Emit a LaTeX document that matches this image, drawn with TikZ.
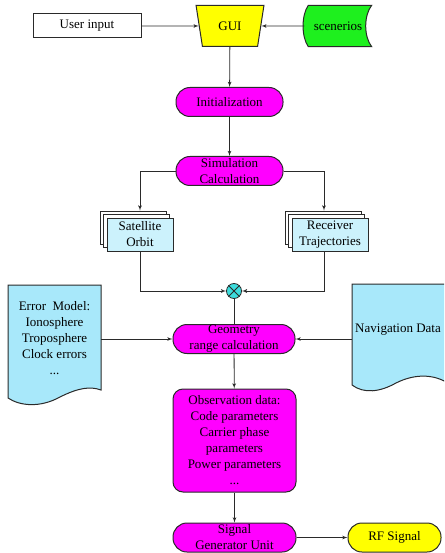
\documentclass[tikz,border=0pt]{standalone}
\usepackage{fontspec}
\setmainfont{Liberation Serif}
\usetikzlibrary{arrows,shapes.geometric,shadows}

\definecolor{linegray}{HTML}{2A2A2A}
\definecolor{procmagenta}{HTML}{FF00FF}
\definecolor{guiyellow}{HTML}{FFFF00}
\definecolor{scengreen}{HTML}{1EF01E}
\definecolor{docblue}{HTML}{A8E8FA}
\definecolor{stackblue}{HTML}{CCF2FC}
\definecolor{sumcyan}{HTML}{3CDCDC}

\begin{document}
\begin{tikzpicture}[
    x=1pt, y=-1pt,
    every node/.style={font=\fontsize{13}{16}\selectfont, align=center, inner sep=0pt},
    flow line/.style={->, >=latex', line width=.8pt, color=linegray},
    plain line/.style={line width=.8pt, color=linegray},
    process/.style={draw=linegray, line width=1pt, fill=procmagenta,
        rounded corners=14pt, minimum height=29pt},
    document/.style={draw=linegray, line width=1pt, fill=docblue},
    stackbox/.style={draw=linegray, line width=.8pt, fill=stackblue,
        minimum height=33pt,
        copy shadow={shadow xshift=-7pt, shadow yshift=7pt, fill=white, draw=linegray},
        copy shadow={shadow xshift=-3.5pt, shadow yshift=3.5pt, fill=white, draw=linegray}}
    ]
    \useasboundingbox (0,0) rectangle (444,553);
    \clip (0,0) rectangle (444,553);
    % inputs
    \node (user) at (87,26) [draw=linegray, line width=1pt, fill=white,
        minimum width=108pt, minimum height=24pt] {User input};
    \node (gui) at (230,26) [trapezium, draw=linegray, line width=1pt, fill=guiyellow,
        trapezium angle=73, trapezium stretches=true, shape border rotate=180,
        minimum width=68pt, minimum height=41pt] {GUI};
    \node (scen) at (338,26) [minimum width=67pt, minimum height=41pt] {};
    \filldraw[draw=linegray, line width=1pt, fill=scengreen]
        ([xshift=4pt]scen.north west) -- (scen.north east)
        .. controls +(-8,10) and +(-8,-10) .. (scen.south east)
        -- ([xshift=4pt]scen.south west)
        .. controls +(-7,-10) and +(-7,10) .. ([xshift=4pt]scen.north west) -- cycle;
    \node at (scen) {scenerios};
    % processing chain
    \node (init) at (229.5,102) [process, minimum width=107pt] {Initialization};
    \node (sim) at (229.5,171) [process, minimum width=107pt] {Simulation\\Calculation};
    \node (sat) at (140,234.5) [stackbox, minimum width=66pt] {Satellite\\Orbit};
    \node (rec) at (330,234.5) [stackbox, minimum width=76pt] {Receiver\\Trajectories};
    \node (sum) at (234,291) [circle, draw=linegray, line width=.8pt, fill=sumcyan,
        minimum size=15pt] {};
    \draw[plain line] (sum.45) -- (sum.225) (sum.135) -- (sum.315);
    % side documents
    \filldraw[document] (8,285) -- (101,285) -- (101,390)
        .. controls (90,386) and (78,388) .. (60,397)
        .. controls (40,408) and (20,406) .. (8,398) -- cycle;
    \node (err) at (54.5,338) [minimum width=93pt] {Error~~Model:\\Ionosphere\\Troposphere\\Clock errors\\...};
    \filldraw[document] (352,284) -- (446,284) -- (446,382)
        .. controls (432,374) and (414,374) .. (396,383)
        .. controls (380,392) and (364,394) .. (352,385) -- cycle;
    \node (nav) at (398,330) [minimum width=92pt] {Navigation Data};
    \node (geo) at (234,339) [process, minimum width=122pt] {Geometry\\range calculation};
    \node (obs) at (234.5,440.5) [process, rounded corners=10pt, minimum width=123pt,
        minimum height=103pt] {Observation data:\\Code parameters\\Carrier phase\\parameters\\Power parameters\\...};
    \node (sig) at (234.5,537.5) [process, minimum width=123pt] {Signal\\Generator Unit};
    \node (rf) at (394.5,537.5) [process, fill=guiyellow, minimum width=93pt] {RF Signal};
    % connectors
    \draw[flow line] (user.east) -- (gui);
    \draw[flow line] (scen.west) -- (gui);
    \draw[flow line] (gui) -- (init);
    \draw[flow line] (init) -- (sim);
    \draw[flow line] (sim.west) -| ([yshift=7pt]sat.north);
    \draw[flow line] (sim.east) -| ([xshift=-6pt,yshift=7pt]rec.north);
    \draw[flow line] (sat.south) |- (sum.west);
    \draw[flow line] ([xshift=-6pt]rec.south) |- (sum.east);
    \draw[plain line] (sum) -- (geo);
    \draw[flow line] (err.east |- geo) -- (geo.west);
    \draw[flow line] (nav.west |- geo) -- (geo.east);
    \draw[flow line] (geo) -- (obs);
    \draw[flow line] (obs) -- (sig);
    \draw[flow line] (sig) -- (rf);
\end{tikzpicture}
\end{document}
